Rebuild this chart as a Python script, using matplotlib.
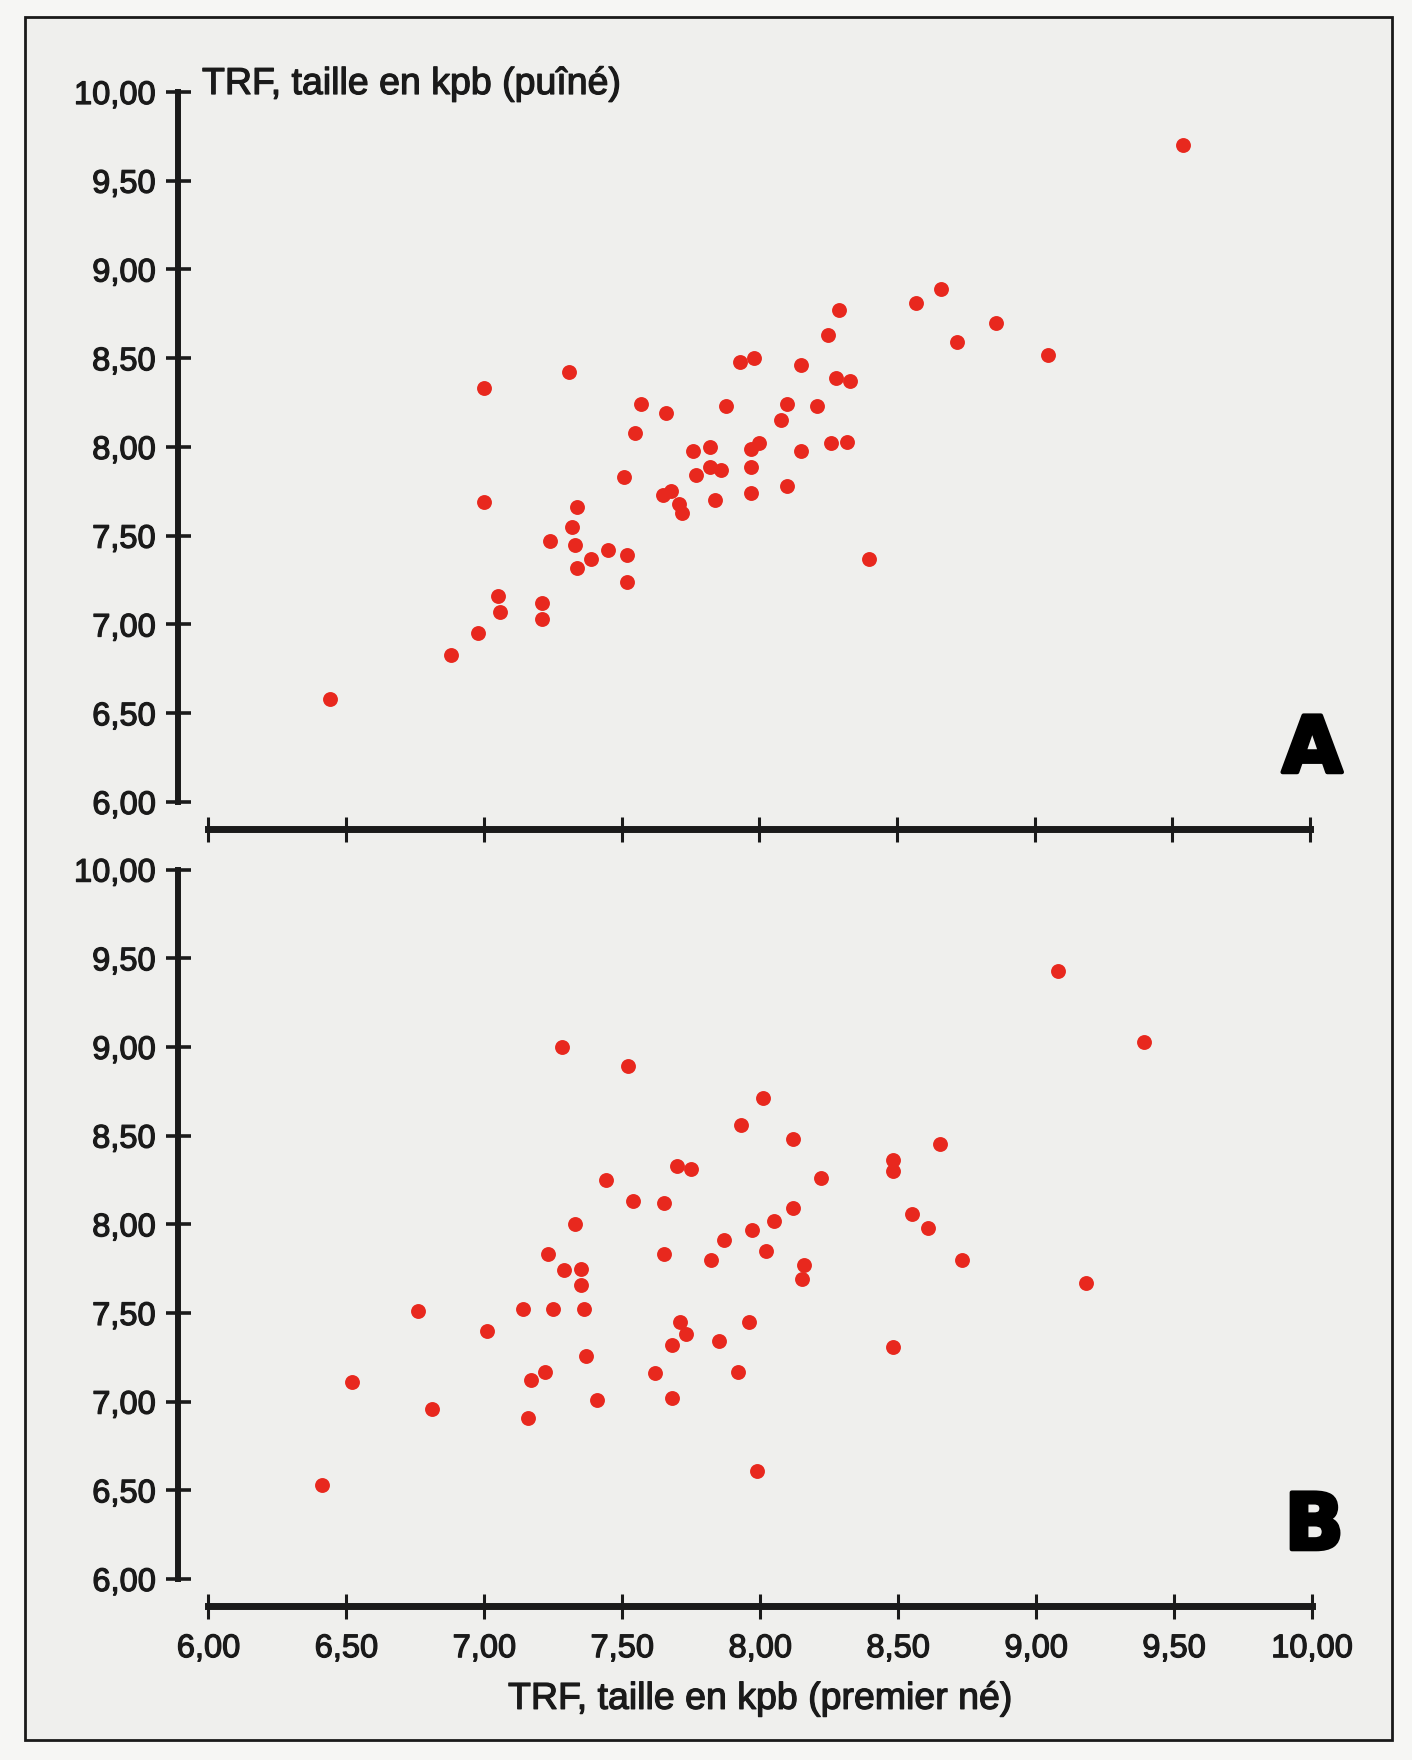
import matplotlib
matplotlib.use("Agg")
import matplotlib.pyplot as plt
import matplotlib.patheffects as pe
from matplotlib.patches import Rectangle

# ── fonts / style ─────────────────────────────────────────
plt.rcParams["font.family"] = ["Liberation Sans", "DejaVu Sans"]

INK = "#1a1a1a"
DOT_RED = "#e8281e"
PANEL_BG = "#efefed"
PAGE_BG = "#f6f6f4"
HEAVY = [pe.withStroke(linewidth=0.9, foreground=INK)]  # slightly heavier type

# ── data (TRF size in kpb) ───────────────────────────────
# A : puîné vs premier né
a_x = [9.54, 6.44, 6.88, 6.98, 7.00, 7.00, 7.05, 7.06, 7.21, 7.21,
       7.24, 7.31, 7.32, 7.33, 7.34, 7.34, 7.39, 7.45, 7.51, 7.52,
       7.52, 7.55, 7.57, 7.65, 7.66, 7.68, 7.71, 7.72, 7.76, 7.77,
       7.82, 7.82, 7.84, 7.86, 7.88, 7.93, 7.97, 7.97, 7.97, 7.98,
       8.00, 8.08, 8.10, 8.10, 8.15, 8.15, 8.21, 8.25, 8.26, 8.28,
       8.29, 8.32, 8.33, 8.40, 8.57, 8.66, 8.72, 8.86, 9.05]
a_y = [9.70, 6.58, 6.83, 6.95, 7.69, 8.33, 7.16, 7.07, 7.03, 7.12,
       7.47, 8.42, 7.55, 7.45, 7.66, 7.32, 7.37, 7.42, 7.83, 7.24,
       7.39, 8.08, 8.24, 7.73, 8.19, 7.75, 7.68, 7.63, 7.98, 7.84,
       8.00, 7.89, 7.70, 7.87, 8.23, 8.48, 7.89, 7.74, 7.99, 8.50,
       8.02, 8.15, 8.24, 7.78, 8.46, 7.98, 8.23, 8.63, 8.02, 8.39,
       8.77, 8.03, 8.37, 7.37, 8.81, 8.89, 8.59, 8.70, 8.52]

# B
b_x = [6.41, 6.52, 6.76, 6.81, 7.01, 7.14, 7.16, 7.17, 7.22, 7.23,
       7.25, 7.28, 7.29, 7.33, 7.35, 7.35, 7.36, 7.37, 7.41, 7.44,
       7.52, 7.54, 7.62, 7.65, 7.65, 7.68, 7.68, 7.70, 7.71, 7.73,
       7.75, 7.82, 7.85, 7.87, 7.93, 7.92, 7.96, 7.97, 7.99, 8.01,
       8.02, 8.05, 8.12, 8.12, 8.15, 8.16, 8.22, 8.48, 8.48, 8.48,
       8.55, 8.61, 8.65, 8.73, 9.08, 9.18, 9.39]
b_y = [6.53, 7.11, 7.51, 6.96, 7.40, 7.52, 6.91, 7.12, 7.17, 7.83,
       7.52, 9.00, 7.74, 8.00, 7.75, 7.66, 7.52, 7.26, 7.01, 8.25,
       8.89, 8.13, 7.16, 7.83, 8.12, 7.32, 7.02, 8.33, 7.45, 7.38,
       8.31, 7.80, 7.34, 7.91, 8.56, 7.17, 7.45, 7.97, 6.61, 8.71,
       7.85, 8.02, 8.09, 8.48, 7.69, 7.77, 8.26, 8.36, 8.30, 7.31,
       8.06, 7.98, 8.45, 7.80, 9.43, 7.67, 9.03]

TICKS = [6.0, 6.5, 7.0, 7.5, 8.0, 8.5, 9.0, 9.5, 10.0]
TICK_LABELS = ["6,00", "6,50", "7,00", "7,50", "8,00", "8,50", "9,00", "9,50", "10,00"]

Y_LABEL = "TRF, taille en kpb (puîné)"
X_LABEL = "TRF, taille en kpb (premier né)"

# ── figure ────────────────────────────────────────────────
W, H = 1412, 1760
fig = plt.figure(figsize=(W / 100, H / 100), dpi=100)
fig.patch.set_facecolor(PAGE_BG)

# page frame (behind the axes)
fig.patches.append(Rectangle((25 / W, 1 - 1740 / H), (1392 - 25) / W, (1740 - 17) / H,
                             transform=fig.transFigure, facecolor=PANEL_BG,
                             edgecolor=INK, linewidth=2.0, zorder=-5))


def make_panel(rect, xs, ys, letter, show_xlabels):
    ax = fig.add_axes(rect)
    ax.set_facecolor("none")
    ax.scatter(xs, ys, s=115, color=DOT_RED, linewidths=0, zorder=3, clip_on=False)
    ax.set_xlim(6, 10)
    ax.set_ylim(6, 10)

    for side in ("top", "right"):
        ax.spines[side].set_visible(False)
    ax.spines["left"].set_position(("outward", 22))
    ax.spines["bottom"].set_position(("outward", 19.5))
    ax.spines["left"].set_bounds(6, 10)
    ax.spines["bottom"].set_bounds(6, 10)
    ax.spines["left"].set_linewidth(4.3)
    ax.spines["bottom"].set_linewidth(5)
    ax.spines["left"].set_color(INK)
    ax.spines["bottom"].set_color(INK)

    ax.set_xticks(TICKS)
    ax.set_yticks(TICKS)
    ax.set_yticklabels(TICK_LABELS)
    ax.set_xticklabels(TICK_LABELS)
    ax.tick_params(axis="y", direction="inout", length=18, width=2.6, pad=7,
                   labelsize=23.5, colors=INK)
    ax.tick_params(axis="x", direction="inout", length=18, width=2.2, pad=10.5,
                   labelsize=23.5, colors=INK, labelbottom=show_xlabels)
    for lab in ax.get_xticklabels() + ax.get_yticklabels():
        lab.set_path_effects(HEAVY)

    ax.text(1.002, 0.073, letter, transform=ax.transAxes, ha="center", va="center",
            fontsize=56, fontweight="bold", family="DejaVu Sans", color="black",
            path_effects=[pe.withStroke(linewidth=3, foreground="black")])
    return ax


ax_a = make_panel([208.4 / W, 1 - 802 / H, (1310 - 208.4) / W, (802 - 92) / H],
                  a_x, a_y, "A", False)
ax_b = make_panel([208.4 / W, 1 - 1579 / H, (1312 - 208.4) / W, (1579 - 869.6) / H],
                  b_x, b_y, "B", True)

ax_b.set_xlabel(X_LABEL, fontsize=27, labelpad=12, color=INK, path_effects=HEAVY)
fig.text(202 / W, 1 - 94 / H, Y_LABEL, fontsize=27, ha="left", va="baseline", color=INK,
         path_effects=HEAVY)

fig.savefig("out.png", dpi=100, facecolor=PAGE_BG)
